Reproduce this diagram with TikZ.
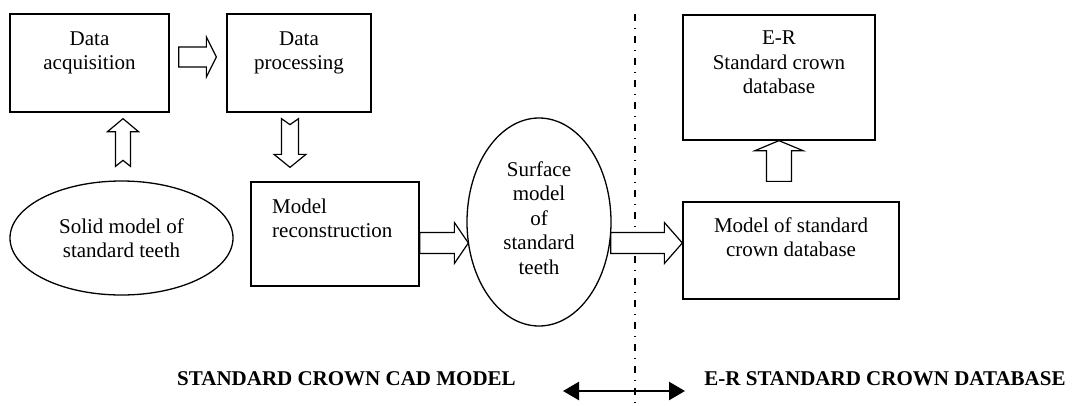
\documentclass[tikz,border=0pt]{standalone}
\usepackage{fontspec}
\setmainfont{Liberation Serif}
\usetikzlibrary{calc,arrows.meta,shapes.geometric}
\newcommand\fatarrow[6]{%
  \coordinate (fa-s) at #1;
  \coordinate (fa-e) at #2;
  \coordinate (fa-h) at ($(fa-e)!#5pt!(fa-s)$);
  \coordinate (fa-n) at ($(fa-s)!#6pt!(fa-e)$);
  \draw[fat] ($(fa-s)!#3pt!90:(fa-e)$) -- ($(fa-h)!#3pt!-90:(fa-s)$) -- ($(fa-h)!#4pt!-90:(fa-s)$) -- (fa-e) -- ($(fa-h)!#4pt!90:(fa-s)$) -- ($(fa-h)!#3pt!90:(fa-s)$) -- ($(fa-s)!#3pt!-90:(fa-e)$) -- (fa-n) -- cycle;
}
\begin{document}
\begin{tikzpicture}[x=1pt,y=-1pt,
  box/.style={draw, line width=1.3pt, inner sep=0pt},
  ell/.style={draw, ellipse, line width=1.3pt, inner sep=0pt},
  txt/.style={font=\fontsize{21}{24.5}\selectfont, align=center, inner sep=0pt},
  lbl/.style={font=\fontsize{21}{24}\selectfont\bfseries, inner sep=0pt},
  fat/.style={draw, fill=white, line width=1.2pt, line join=miter},
  dashdot/.style={line width=1.5pt, dash pattern=on 7pt off 6.5pt on 1.5pt off 7pt}]
\useasboundingbox (0,0) rectangle (1073,405);

% divider (behind everything)
\coordinate (divtop) at (635,14);
\coordinate (divbot) at (635,405);
\draw[dashdot] (divtop) -- (divbot);

% boxes and ellipses
\node[box, minimum width=159pt, minimum height=98pt] (acq) at (89.5,63) {};
\node[box, minimum width=144pt, minimum height=98pt] (proc) at (299,63) {};
\node[ell, minimum width=223pt, minimum height=114pt] (solid) at (121.5,238) {};
\node[box, minimum width=168pt, minimum height=104pt] (recon) at (335,234) {};
\node[ell, minimum width=144pt, minimum height=208pt] (surf) at (539,222) {};
\node[box, minimum width=192pt, minimum height=125pt] (er) at (779,77.5) {};
\node[box, minimum width=216pt, minimum height=97pt] (mstd) at (791,250.5) {};

% texts
\node[txt] (acqt) at (89.5,52.75) {Data\\acquisition};
\node[txt] (proct) at (299,52.75) {Data\\processing};
\node[txt] (solidt) at (121.5,238.3) {Solid model of\\standard teeth};
\node[txt, align=left, anchor=west] (recont) at (272,218.5) {Model\\reconstruction};
\node[txt] (surft) at (539,218) {Surface\\model\\of\\standard\\teeth};
\node[txt] (ert) at (779,62.5) {E-R\\Standard crown\\database};
\node[txt] (mstdt) at (791,237) {Model of standard\\crown database};
\node[lbl] (cadlbl) at (346.5,378.5) {STANDARD CROWN CAD MODEL};
\node[lbl] (dblbl) at (885,378.5) {E-R STANDARD CROWN DATABASE};

% fat arrows
\fatarrow{($(acq.east)+(9,-6)$)}{($(proc.west)+(-10,-6)$)}{10}{20}{10}{0}
\fatarrow{($(solid.north)+(1.5,-14)$)}{($(acq.south)+(33.5,6)$)}{7.5}{15.5}{13}{6}
\fatarrow{($(proc.south)+(-9,6)$)}{($(recon.north)+(-45,-14)$)}{8.5}{16}{13}{6}
\fatarrow{($(recon.east)+(0,9)$)}{($(surf.west)+(2,21)$)}{10.5}{20.5}{14}{0}
\fatarrow{($(surf.east)+(-1,21)$)}{($(mstd.west)+(0,-7.5)$)}{10.5}{20.5}{18}{0}
\fatarrow{($(mstd.north)+(-12,-20)$)}{(er.south)}{12.5}{24}{10}{0}

% double arrow
\coordinate (dal) at (563,391);
\coordinate (dar) at (685,391);
\draw[line width=2.5pt, {Triangle[length=16pt,width=18pt]}-{Triangle[length=16pt,width=18pt]}] (dal) -- (dar);
\end{tikzpicture}
\end{document}
